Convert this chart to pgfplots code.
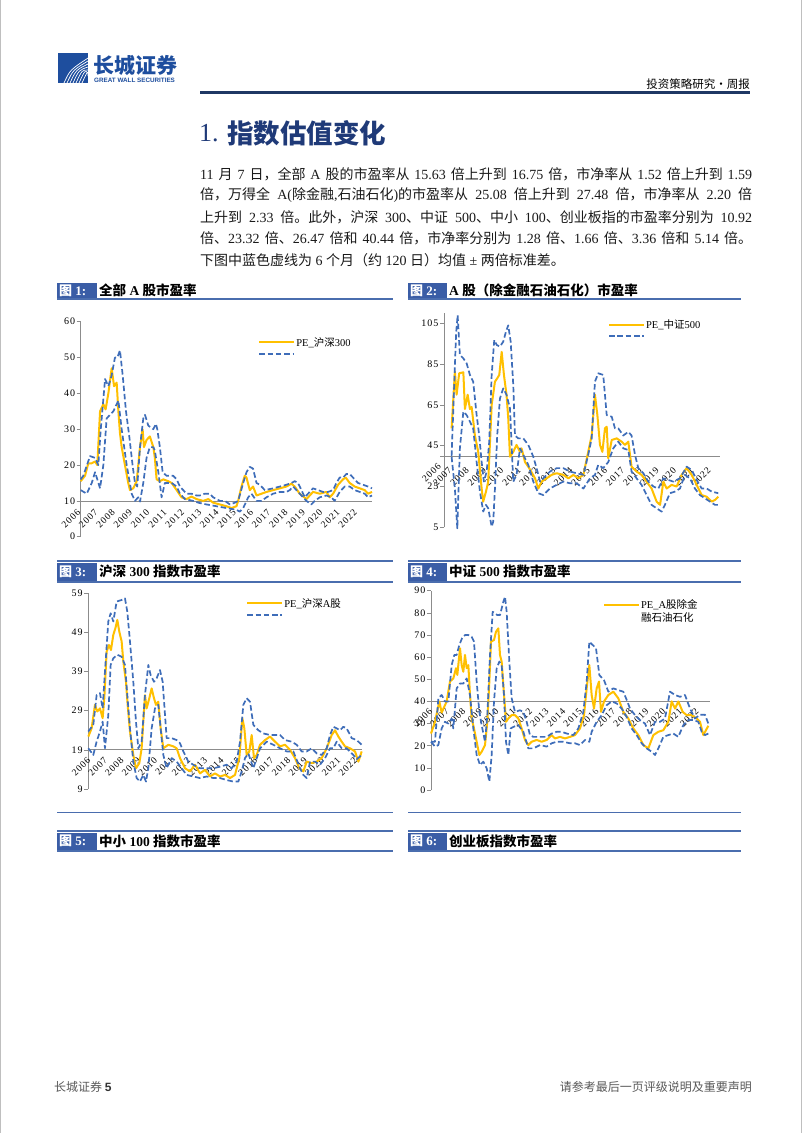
\documentclass[border=0pt]{standalone}
\usepackage{fontspec}
\usepackage{pgfplots}
\pgfplotsset{compat=1.18}
\setmainfont{Liberation Serif}
\newfontfamily\cjk{Noto Sans CJK SC}
\newfontfamily\lsans{Liberation Sans}
\newfontfamily\spaced[LetterSpace=10]{Liberation Serif}
\newcommand\z[1]{{\cjk #1}}
\newcommand\ytfont{\spaced\fontsize{10}{10}\selectfont}
\newcommand\yrfont{\spaced\fontsize{9.5}{10}\selectfont}
\newcommand\legfont{\fontsize{10.5}{11}\selectfont}
\definecolor{navy}{HTML}{1F3A78}
\definecolor{rulec}{HTML}{1F3864}
\definecolor{hdrbox}{HTML}{3A5DA6}
\definecolor{hdrline}{HTML}{4A6DAE}
\definecolor{logoblue}{HTML}{1E4E9E}
\definecolor{peyellow}{HTML}{FFC000}
\definecolor{bandblue}{HTML}{3E6DB9}
\definecolor{axgray}{HTML}{8C8C8C}
\definecolor{footgray}{HTML}{595959}
\definecolor{bodytext}{HTML}{1A1A1A}
\pgfplotsset{
 pebase/.style={
   scale only axis, clip=false,
   axis lines=left, axis line style={-, draw=axgray, line width=0.75pt},
   x axis line style={draw=none},
   xtick={2006,...,2022}, xtick style={draw=none},
   ytick style={draw=axgray, line width=0.6pt},
   tick align=outside, major tick length=4pt,
   major grid style={draw=axgray, line width=0.75pt},
   /pgf/number format/assume math mode=true,
   /pgf/number format/1000 sep={},
   yticklabel style={font=\ytfont, inner sep=1.5pt},
   xticklabel style={font=\yrfont},
   legend style={draw=none, fill=none, anchor=north west, font=\legfont, inner sep=0pt, row sep=0pt, nodes={inner sep=1pt}},
   legend cell align=left,
   legend image code/.code={\draw[##1] (0pt,0pt) -- (35pt,0pt);},
 },
 yr/.style 2 args={xticklabel style={xshift=#1, yshift=#2, rotate=45, anchor=east}},
 pe/.style={draw=peyellow, line width=2pt, line join=round},
 band/.style={draw=bandblue, line width=1.7pt, dash pattern=on 5.5pt off 2.8pt, line join=round},
}
\begin{document}
\begin{tikzpicture}
\fill[white] (0pt,0pt) rectangle (802pt,-1133pt);
\path[use as bounding box] (0pt,0pt) rectangle (802pt,-1133pt);
\draw[black!25, line width=0.8pt] (0.4pt,0pt) -- (0.4pt,-1133pt);
\draw[black!25, line width=0.8pt] (801.6pt,0pt) -- (801.6pt,-1133pt);

% ---------- logo and page header
\fill[logoblue] (58pt,-53pt) rectangle (88pt,-83pt);
\foreach \i in {0,...,6}{
  \draw[white, line width=0.7pt] ({(64+3*\i)*1pt},-83pt) .. controls ({(70+3*\i)*1pt},-70pt) .. (88pt,{(-58-3*\i)*1pt});
}
\node[anchor=west, text=logoblue, font=\cjk\bfseries\fontsize{21}{21}\selectfont, inner sep=0pt] at (93pt,-65pt) {长城证券};
\node[anchor=west, text=logoblue, font=\lsans\bfseries\fontsize{6.3}{7}\selectfont, inner sep=0pt] at (94pt,-80pt) {GREAT WALL SECURITIES};
\node[anchor=east, font=\cjk\fontsize{11.5}{12}\selectfont, inner sep=0pt] at (750pt,-84pt) {投资策略研究•周报};
\fill[rulec] (200pt,-91pt) rectangle (750pt,-94pt);

% ---------- title and text
\node[anchor=west, text=navy, font=\fontsize{26}{26}\selectfont, inner sep=0pt] at (199pt,-133pt) {1.};
\node[anchor=west, text=navy, font=\cjk\bfseries\fontsize{26.5}{27}\selectfont, inner sep=0pt] at (227pt,-133pt) {指数估值变化};
\begin{scope}[every node/.style={anchor=west, inner sep=0pt, text=bodytext, font=\fontsize{14}{16}\selectfont}]
\node at (200pt,-174pt) {\makebox[552pt][s]{11 \z{月} 7 \z{日，全部} A \z{股的市盈率从} 15.63 \z{倍上升到} 16.75 \z{倍，市净率从} 1.52 \z{倍上升到} 1.59}};
\node at (200pt,-195.5pt) {\makebox[552pt][s]{\z{倍，万得全} A(\z{除金融},\z{石油石化})\z{的市盈率从} 25.08 \z{倍上升到} 27.48 \z{倍，市净率从} 2.20 \z{倍}}};
\node at (200pt,-217pt) {\makebox[552pt][s]{\z{上升到} 2.33 \z{倍。此外，沪深} 300\z{、中证} 500\z{、中小} 100\z{、创业板指的市盈率分别为} 10.92}};
\node at (200pt,-238.5pt) {\makebox[552pt][s]{\z{倍、}23.32 \z{倍、}26.47 \z{倍和} 40.44 \z{倍，市净率分别为} 1.28 \z{倍、}1.66 \z{倍、}3.36 \z{倍和} 5.14 \z{倍。}}};
\node at (200pt,-260pt) {\z{下图中蓝色虚线为} 6 \z{个月（约} 120 \z{日）均值} ± \z{两倍标准差。}};
\end{scope}

% ---------- figure headers
\begin{scope}[every node/.style={anchor=west, inner sep=0pt}]
\fill[hdrbox] (57pt,-282.5pt) rectangle (97pt,-298.5pt);
\node[text=white, font=\bfseries\fontsize{13}{13}\selectfont] at (59pt,-290.5pt) {\z{图}~1:};
\node[font=\bfseries\fontsize{13.5}{14}\selectfont] at (99pt,-290.5pt) {\z{全部} A \z{股市盈率}};
\draw[hdrline, line width=1.6pt] (57pt,-299pt) -- (393pt,-299pt);
\fill[hdrbox] (408pt,-282.5pt) rectangle (447pt,-298.5pt);
\node[text=white, font=\bfseries\fontsize{13}{13}\selectfont] at (410pt,-290.5pt) {\z{图}~2:};
\node[font=\bfseries\fontsize{13.5}{14}\selectfont] at (449pt,-290.5pt) {A \z{股（除金融石油石化）市盈率}};
\draw[hdrline, line width=1.6pt] (408pt,-299pt) -- (741pt,-299pt);
\draw[hdrline, line width=1.6pt] (57pt,-561pt) -- (393pt,-561pt);
\fill[hdrbox] (57pt,-562.5pt) rectangle (97pt,-581pt);
\node[text=white, font=\bfseries\fontsize{13}{13}\selectfont] at (59pt,-571.5pt) {\z{图}~3:};
\node[font=\bfseries\fontsize{13.5}{14}\selectfont] at (99pt,-571.5pt) {\z{沪深} 300 \z{指数市盈率}};
\draw[hdrline, line width=1.6pt] (57pt,-582pt) -- (393pt,-582pt);
\draw[hdrline, line width=1.6pt] (408pt,-561pt) -- (741pt,-561pt);
\fill[hdrbox] (408pt,-562.5pt) rectangle (447pt,-581pt);
\node[text=white, font=\bfseries\fontsize{13}{13}\selectfont] at (410pt,-571.5pt) {\z{图}~4:};
\node[font=\bfseries\fontsize{13.5}{14}\selectfont] at (449pt,-571.5pt) {\z{中证} 500 \z{指数市盈率}};
\draw[hdrline, line width=1.6pt] (408pt,-582pt) -- (741pt,-582pt);
\draw[hdrline, line width=1.6pt] (57pt,-812.5pt) -- (393pt,-812.5pt);
\draw[hdrline, line width=1.6pt] (408pt,-812.5pt) -- (741pt,-812.5pt);
\draw[hdrline, line width=1.6pt] (57pt,-831pt) -- (393pt,-831pt);
\fill[hdrbox] (57pt,-832.5pt) rectangle (97pt,-850pt);
\node[text=white, font=\bfseries\fontsize{13}{13}\selectfont] at (59pt,-841pt) {\z{图}~5:};
\node[font=\bfseries\fontsize{13.5}{14}\selectfont] at (99pt,-841pt) {\z{中小} 100 \z{指数市盈率}};
\draw[hdrline, line width=1.6pt] (57pt,-851pt) -- (393pt,-851pt);
\draw[hdrline, line width=1.6pt] (408pt,-831pt) -- (741pt,-831pt);
\fill[hdrbox] (408pt,-832.5pt) rectangle (447pt,-850pt);
\node[text=white, font=\bfseries\fontsize{13}{13}\selectfont] at (410pt,-841pt) {\z{图}~6:};
\node[font=\bfseries\fontsize{13.5}{14}\selectfont] at (449pt,-841pt) {\z{创业板指数市盈率}};
\draw[hdrline, line width=1.6pt] (408pt,-851pt) -- (741pt,-851pt);
\end{scope}

% ---------- footer
\node[anchor=west, inner sep=0pt, text=footgray, font=\cjk\fontsize{12}{12}\selectfont] at (54pt,-1087pt) {长城证券 {\lsans\bfseries\color{black!80}5}};
\node[anchor=east, inner sep=0pt, text=footgray, font=\cjk\fontsize{12}{12}\selectfont] at (752pt,-1087pt) {请参考最后一页评级说明及重要声明};

% ---------- chart 1
\begin{axis}[pebase, at={(80.7pt,-536.7pt)}, anchor=south west, width=291.3pt, height=215pt,
  xmin=2006, xmax=2022.85, ymin=0, ymax=60, ytick={0,10,...,60},
  extra y ticks={10}, extra y tick labels={}, extra y tick style={grid=major},
  yr={0.5pt}{32pt}, legend style={at={(0.609,0.933)}}]
\addplot[pe] coordinates {(2006.00,15.5)(2006.25,17)(2006.44,20.5)(2006.64,20.5)(2006.83,21)(2006.96,20)(2007.12,35)(2007.31,37)(2007.44,35.5)(2007.60,40)(2007.79,47)(2007.93,42)(2008.08,43)(2008.18,35)(2008.27,29)(2008.37,25)(2008.56,20)(2008.75,15)(2008.85,13)(2009.04,13.5)(2009.24,15.5)(2009.43,25)(2009.58,30)(2009.66,25)(2009.81,27)(2010.00,28)(2010.20,25)(2010.29,22)(2010.39,16)(2010.58,15.5)(2010.78,16)(2011.06,15.5)(2011.26,15)(2011.55,13)(2011.83,11)(2012.12,10.5)(2012.41,11.2)(2012.70,10.5)(2013.09,10)(2013.38,10.5)(2013.66,9.5)(2014.05,9)(2014.43,8.5)(2014.72,8)(2015.01,8.5)(2015.11,10)(2015.30,14)(2015.49,17)(2015.59,16.5)(2015.78,13)(2015.97,14)(2016.17,11.5)(2016.46,12)(2016.75,12.5)(2017.13,13)(2017.52,13.5)(2017.90,14)(2018.19,14.8)(2018.38,14)(2018.67,12)(2019.06,10.5)(2019.25,11.5)(2019.44,12.5)(2019.83,12)(2020.21,12.5)(2020.40,11)(2020.60,12)(2020.89,14.5)(2021.17,16)(2021.33,16.5)(2021.56,15)(2021.85,14)(2022.14,13.5)(2022.43,13)(2022.62,12)(2022.85,12.5)};
\addlegendentry{PE\_\z{沪深}300}
\addplot[band] coordinates {(2006.00,16)(2006.15,17)(2006.54,22.5)(2006.83,22)(2007.02,20)(2007.16,30)(2007.41,44)(2007.60,42)(2007.79,45)(2007.98,50)(2008.12,50)(2008.27,52)(2008.43,45)(2008.62,35)(2008.81,28)(2009.00,20)(2009.14,15)(2009.27,14)(2009.43,25)(2009.62,33)(2009.72,34)(2009.91,31)(2010.20,30)(2010.35,31.5)(2010.43,30)(2010.58,25)(2010.74,18)(2010.97,17)(2011.35,17)(2011.55,16)(2011.74,14)(2012.12,12)(2012.41,12)(2012.70,11.5)(2012.89,11.5)(2013.18,12)(2013.47,12)(2013.66,11)(2014.05,10)(2014.34,10)(2014.63,9)(2014.92,9.5)(2015.11,10)(2015.40,15)(2015.59,18)(2015.78,19.5)(2015.97,19)(2016.17,15)(2016.36,14.5)(2016.65,13)(2017.13,13.5)(2017.52,14)(2017.90,14.5)(2018.19,15)(2018.38,15.5)(2018.57,15)(2018.77,13)(2018.96,11)(2019.15,12)(2019.44,13.5)(2019.73,13)(2020.02,12.5)(2020.31,12.5)(2020.60,13)(2020.79,15)(2020.98,16.5)(2021.17,16.5)(2021.37,17.5)(2021.56,17.5)(2021.85,16)(2022.04,15)(2022.33,14.5)(2022.62,14)(2022.85,13.5)};
\addlegendentry{\phantom{PE}}
\addplot[band, forget plot] coordinates {(2006.00,13)(2006.35,12)(2006.64,15)(2006.83,18)(2006.96,16)(2007.12,13.5)(2007.31,20)(2007.50,33)(2007.69,34)(2007.89,35)(2008.08,37)(2008.18,38)(2008.37,30)(2008.66,20)(2008.95,12)(2009.14,10)(2009.33,11)(2009.43,9.8)(2009.62,15)(2009.81,22)(2010.00,25)(2010.20,25)(2010.29,24)(2010.49,18)(2010.68,11)(2010.87,15)(2011.26,15)(2011.55,14)(2011.74,12)(2012.03,10.5)(2012.51,10)(2012.80,9.5)(2013.28,9)(2013.86,8.5)(2014.43,8)(2015.01,7.5)(2015.20,7)(2015.40,8)(2015.69,11)(2015.88,12)(2016.17,10)(2016.46,10)(2016.75,11)(2017.13,12)(2017.52,12.5)(2017.90,12.5)(2018.09,13)(2018.29,14)(2018.67,12)(2019.06,10)(2019.34,9)(2019.54,10)(2019.83,11)(2020.21,11.5)(2020.50,11)(2020.69,10)(2020.98,12.5)(2021.27,14)(2021.56,14)(2021.85,13)(2022.14,12.5)(2022.43,12)(2022.62,11)(2022.85,11.5)};
\end{axis}

% ---------- chart 2
\begin{axis}[pebase, at={(444pt,-527.3pt)}, anchor=south west, width=276pt, height=214.2pt,
  xmin=2006.85, xmax=2022.83, ymin=5, ymax=110, ytick={5,25,...,105},
  extra y ticks={40}, extra y tick labels={}, extra y tick style={grid=major},
  yr={6pt}{64.6pt}, legend style={at={(0.594,0.975)}}]
\addplot[pe] coordinates {(2007.29,53.5)(2007.48,81.3)(2007.58,70)(2007.73,80.5)(2007.97,81)(2008.06,63)(2008.22,70)(2008.35,63)(2008.45,64)(2008.64,50)(2008.83,42)(2009.03,24)(2009.12,17.6)(2009.28,22.5)(2009.41,27.4)(2009.61,65)(2009.80,76.4)(2009.93,78)(2010.05,79.7)(2010.19,91)(2010.32,79.7)(2010.47,70)(2010.57,58.4)(2010.67,39.6)(2010.86,42)(2011.05,45.4)(2011.25,42)(2011.34,43.7)(2011.54,37)(2011.73,34.7)(2011.92,32)(2012.12,29)(2012.31,24)(2012.50,27.4)(2012.79,29)(2013.08,30.7)(2013.37,31.5)(2013.76,30.7)(2014.05,29)(2014.34,30.7)(2014.63,29)(2014.92,30.7)(2015.20,42)(2015.40,50)(2015.59,70)(2015.73,60)(2015.88,45.4)(2016.02,42)(2016.17,53.5)(2016.27,54.3)(2016.36,38.8)(2016.56,47.8)(2016.85,48.6)(2017.13,47)(2017.33,45.4)(2017.52,47)(2017.71,34.7)(2018.00,32.3)(2018.29,30.7)(2018.58,27.4)(2018.87,24)(2019.16,17.6)(2019.36,16)(2019.55,27.4)(2019.74,24)(2020.03,25.8)(2020.32,25)(2020.61,30.7)(2020.90,34)(2021.19,30.7)(2021.48,25.8)(2021.77,20.8)(2022.06,20)(2022.35,17.6)(2022.54,18.4)(2022.73,20)};
\addlegendentry{PE\_\z{中证}500}
\addplot[band] coordinates {(2007.29,40)(2007.55,100)(2007.64,109)(2007.77,89.5)(2007.97,87.8)(2008.16,85.4)(2008.35,79.7)(2008.54,76.4)(2008.74,60)(2008.89,50)(2009.03,37)(2009.16,27.4)(2009.32,32.3)(2009.47,47)(2009.61,79.7)(2009.76,96.8)(2009.90,94.4)(2010.09,93.6)(2010.28,96)(2010.44,101)(2010.57,104)(2010.71,96)(2010.86,74.8)(2010.96,50)(2011.15,48.6)(2011.44,48.6)(2011.73,45.4)(2012.02,39.6)(2012.21,34)(2012.41,27.4)(2012.69,29.8)(2012.98,32.3)(2013.37,34)(2013.76,34)(2014.14,32.3)(2014.53,31.5)(2014.92,30.7)(2015.20,40.5)(2015.40,48.6)(2015.59,76.4)(2015.78,80.5)(2016.07,79.7)(2016.27,60)(2016.56,59.2)(2016.75,53.5)(2016.94,53.5)(2017.23,50)(2017.52,51.8)(2017.71,50)(2017.91,40.5)(2018.10,34)(2018.39,31.5)(2018.68,27.4)(2018.97,25)(2019.26,24)(2019.55,29)(2019.84,28.2)(2020.13,27.4)(2020.51,29)(2020.90,34.7)(2021.19,33.1)(2021.48,28.2)(2021.77,24)(2022.06,24)(2022.35,22.5)(2022.73,21.7)};
\addlegendentry{\phantom{PE}}
\addplot[band, forget plot] coordinates {(2007.29,39.6)(2007.48,24)(2007.62,4.5)(2007.77,43.7)(2007.97,61.7)(2008.16,60)(2008.35,56.8)(2008.54,53.5)(2008.74,37)(2008.93,22.5)(2009.12,12.7)(2009.28,16)(2009.41,14.3)(2009.61,5.3)(2009.70,7.8)(2009.80,24)(2009.93,50)(2010.09,68.2)(2010.28,73.1)(2010.47,70)(2010.67,63.3)(2010.86,27.4)(2011.05,30.7)(2011.25,43.7)(2011.44,40.5)(2011.73,35.6)(2012.02,27.4)(2012.31,21.7)(2012.60,20.8)(2012.98,24)(2013.37,25.8)(2013.76,27.4)(2014.14,26.6)(2014.53,26.6)(2014.92,24)(2015.30,29)(2015.59,30.7)(2015.78,35.6)(2016.07,34)(2016.36,37)(2016.65,43.7)(2016.94,47)(2017.23,43.7)(2017.52,42.9)(2017.71,32.3)(2018.00,29)(2018.29,25.8)(2018.58,20.8)(2018.87,16)(2019.16,14.3)(2019.45,12.7)(2019.64,16)(2019.93,21.7)(2020.22,22.5)(2020.51,24)(2020.80,30.7)(2021.09,29)(2021.38,24)(2021.67,20.8)(2021.96,19.2)(2022.25,17.6)(2022.54,16)(2022.73,16)};
\node[font=\yrfont, xshift=6pt, yshift=64.6pt, rotate=45, anchor=east] at (axis cs:2006.37,5) {2006};
\end{axis}

% ---------- chart 3
\begin{axis}[pebase, at={(88.3pt,-789pt)}, anchor=south west, width=273.4pt, height=195.7pt,
  xmin=2006, xmax=2022.4, ymin=9, ymax=59, ytick={9,19,...,59},
  extra y ticks={19}, extra y tick labels={}, extra y tick style={grid=major},
  yr={3pt}{37pt}, legend style={at={(0.577,0.981)}}]
\addplot[pe] coordinates {(2006.0,22.4)(2006.2,24.5)(2006.4,30.5)(2006.54,28.8)(2006.7,29.6)(2006.86,27.1)(2006.96,32.2)(2007.1,44.1)(2007.24,45.8)(2007.36,44.5)(2007.5,48.4)(2007.62,50)(2007.74,52.2)(2007.86,49.2)(2008.0,46.7)(2008.1,41.6)(2008.26,36.4)(2008.36,30.5)(2008.5,23.7)(2008.7,17.7)(2008.86,14.3)(2009.06,15.6)(2009.2,19.4)(2009.4,33)(2009.5,29.6)(2009.66,32.2)(2009.8,34.7)(2009.94,32.2)(2010.06,30.5)(2010.2,31.3)(2010.34,24.5)(2010.5,19.4)(2010.8,20.3)(2011.1,19.9)(2011.3,19.4)(2011.5,16.9)(2011.8,14.3)(2012.1,13.5)(2012.4,15.2)(2012.7,13)(2013.0,13.9)(2013.3,12.2)(2013.6,13)(2013.9,12.2)(2014.2,12.6)(2014.5,11.8)(2014.8,12.6)(2015.06,16.9)(2015.24,27.1)(2015.36,24.5)(2015.5,17.7)(2015.66,18.6)(2015.8,22.8)(2015.94,16.9)(2016.1,17.7)(2016.3,20.3)(2016.6,21.5)(2016.9,22.4)(2017.2,21.1)(2017.5,19.9)(2017.8,20.3)(2018.1,19)(2018.4,16.9)(2018.66,14.3)(2018.9,13.5)(2019.1,16)(2019.4,15.6)(2019.7,16)(2020.0,16.9)(2020.3,19.4)(2020.6,22.8)(2020.8,24)(2021.0,22.4)(2021.2,21.1)(2021.4,19.9)(2021.7,19.4)(2022.0,18.6)(2022.2,16)(2022.4,18.6)};
\addlegendentry{PE\_\z{沪深}A\z{股}}
\addplot[band] coordinates {(2006.0,23.7)(2006.3,25.4)(2006.5,33)(2006.7,33.5)(2006.86,29.6)(2007.0,39)(2007.2,51.8)(2007.34,53.9)(2007.5,51.8)(2007.7,56.9)(2008.0,57.3)(2008.2,57.7)(2008.34,54.3)(2008.5,46.7)(2008.7,36.4)(2008.86,26.2)(2009.0,19.4)(2009.2,21.1)(2009.4,33)(2009.6,40.7)(2009.74,38.1)(2009.94,36.4)(2010.1,37.3)(2010.3,39.4)(2010.46,36.4)(2010.7,22)(2011.0,22)(2011.3,21.5)(2011.5,20.7)(2011.7,18.6)(2012.0,16)(2012.3,15.2)(2012.7,14.3)(2013.1,14.3)(2013.5,14.3)(2013.9,14.7)(2014.3,15.2)(2014.6,14.3)(2014.9,16)(2015.1,21.1)(2015.3,30.5)(2015.5,32.2)(2015.7,31.3)(2015.9,25.4)(2016.2,24)(2016.5,23.2)(2016.9,22.8)(2017.3,22.8)(2017.5,22.8)(2017.8,21.5)(2018.2,21.1)(2018.5,20.3)(2018.8,18.6)(2019.1,18.6)(2019.4,19.4)(2019.7,18.1)(2020.0,17.7)(2020.3,19.4)(2020.5,22.8)(2020.7,24.9)(2020.9,24.5)(2021.1,24)(2021.3,24.9)(2021.5,24.5)(2021.8,22)(2022.1,21.5)(2022.4,20.3)};
\addlegendentry{\phantom{PE}}
\addplot[band, forget plot] coordinates {(2006.0,19.4)(2006.3,17.7)(2006.5,21.1)(2006.7,23.7)(2006.86,26.2)(2007.0,19.4)(2007.2,27.9)(2007.34,40.7)(2007.5,42.4)(2007.74,43.3)(2008.0,42.8)(2008.2,40.7)(2008.34,33)(2008.5,24.5)(2008.7,16)(2008.9,11.8)(2009.1,10.9)(2009.3,12.6)(2009.46,10.9)(2009.6,14.3)(2009.8,24.5)(2010.0,29.6)(2010.2,30.5)(2010.34,24.5)(2010.5,17.7)(2010.7,14.3)(2011.0,16.9)(2011.3,16)(2011.6,14.3)(2011.9,12.6)(2012.3,12.2)(2012.7,11.8)(2013.1,12.2)(2013.5,11.8)(2013.9,11.8)(2014.3,11.3)(2014.7,10.9)(2015.0,10.9)(2015.2,13.5)(2015.4,16.9)(2015.6,18.1)(2015.9,14.3)(2016.3,19.4)(2016.7,21.1)(2017.1,20.3)(2017.5,19.4)(2017.9,18.6)(2018.3,18.6)(2018.7,14.3)(2018.9,12.6)(2019.1,11.8)(2019.3,16)(2019.6,16)(2019.9,15.2)(2020.2,16.9)(2020.5,19.4)(2020.7,19.4)(2020.9,21.1)(2021.2,19.4)(2021.5,19.4)(2021.9,17.7)(2022.1,16.6)(2022.4,17.7)};
\end{axis}

% ---------- chart 4
\begin{axis}[pebase, at={(431pt,-790pt)}, anchor=south west, width=279pt, height=199.3pt,
  xmin=2006, xmax=2022.74, ymin=0, ymax=90, ytick={0,10,...,90},
  extra y ticks={40}, extra y tick labels={}, extra y tick style={grid=major},
  yr={2pt}{86.7pt}, legend style={at={(0.616,0.961)}}]
\addplot[pe] coordinates {(2006.00,25.5)(2006.24,30.8)(2006.50,40)(2006.64,35)(2006.94,40)(2007.14,49)(2007.34,50.4)(2007.50,55)(2007.58,52)(2007.74,64)(2007.84,56.4)(2007.94,53.4)(2008.04,61)(2008.14,55)(2008.24,56.4)(2008.34,42.9)(2008.44,32.3)(2008.58,27.8)(2008.74,21.8)(2008.90,15.8)(2009.04,17.3)(2009.24,20.3)(2009.38,30.8)(2009.50,49)(2009.60,67)(2009.78,67.7)(2009.90,71.5)(2010.04,73)(2010.14,61)(2010.24,58)(2010.34,47.4)(2010.50,30.8)(2010.64,32.3)(2010.84,33.8)(2011.04,33.8)(2011.24,32.3)(2011.44,27.8)(2011.64,22.6)(2011.84,20.3)(2012.04,21.8)(2012.34,22.6)(2012.64,21.8)(2012.94,22.6)(2013.24,24.8)(2013.44,23.3)(2013.74,24)(2014.04,23.3)(2014.34,24)(2014.64,24.8)(2014.94,27.8)(2015.18,33.8)(2015.34,45.9)(2015.50,56.4)(2015.64,42.9)(2015.78,36.8)(2015.94,45.9)(2016.08,49)(2016.20,35.3)(2016.38,40)(2016.64,42.9)(2016.94,44.4)(2017.24,41.4)(2017.54,35.3)(2017.84,32.3)(2018.14,27.8)(2018.44,24.8)(2018.74,20.3)(2019.04,18.8)(2019.34,24.8)(2019.64,26.3)(2019.94,27)(2020.24,30.8)(2020.44,40)(2020.64,36.8)(2020.84,40)(2021.10,35.3)(2021.34,33.8)(2021.64,33.8)(2021.94,32.3)(2022.14,30.8)(2022.34,24.8)(2022.64,29)};
\addlegendentry{\rlap{\smash{\raisebox{-13pt}{\z{融石油石化}}}}PE\_A\z{股除金}}
\addplot[band, forget plot] coordinates {(2006.00,21.8)(2006.24,21.8)(2006.44,41.4)(2006.64,42.9)(2006.84,40)(2007.04,40)(2007.24,56.4)(2007.40,61)(2007.54,61)(2007.70,65.5)(2007.86,68.5)(2008.04,70)(2008.24,70)(2008.44,69.2)(2008.58,67)(2008.74,48.9)(2008.90,35.3)(2009.04,29.3)(2009.24,21.8)(2009.38,33.8)(2009.54,61)(2009.70,80.5)(2009.84,79.8)(2009.98,79)(2010.14,79)(2010.34,85)(2010.44,87.3)(2010.54,80.5)(2010.70,58)(2010.84,41.4)(2011.04,35.3)(2011.34,36)(2011.54,35.3)(2011.74,30.8)(2011.94,24.8)(2012.14,24)(2012.54,24)(2012.94,24)(2013.24,25.5)(2013.54,26.3)(2013.84,26.3)(2014.14,25.5)(2014.54,24.8)(2014.84,27.8)(2015.14,35.3)(2015.34,48.9)(2015.50,67)(2015.70,65.5)(2015.90,64)(2016.10,51.9)(2016.38,49.6)(2016.64,44.4)(2016.94,45.9)(2017.24,45.1)(2017.54,44.4)(2017.78,40)(2017.94,36.8)(2018.24,33.8)(2018.54,31.6)(2018.84,30)(2019.14,24.8)(2019.44,30.8)(2019.74,30.8)(2020.04,32.3)(2020.34,44.4)(2020.64,42.9)(2020.94,42.1)(2021.24,42.9)(2021.54,36.8)(2021.84,32.3)(2022.14,34)(2022.44,34)(2022.64,30)};
\addplot[band, forget plot] coordinates {(2006.00,21.8)(2006.24,19.6)(2006.44,20.3)(2006.64,27.8)(2006.84,30.8)(2007.04,30)(2007.24,32.3)(2007.34,27.8)(2007.54,45.9)(2007.74,48.1)(2007.94,48.1)(2008.14,50.4)(2008.34,42.9)(2008.54,27.8)(2008.74,15.8)(2008.94,11.3)(2009.14,12.8)(2009.34,9.8)(2009.50,3.8)(2009.64,15.8)(2009.78,40)(2009.94,54.9)(2010.10,58)(2010.24,56.4)(2010.38,42.9)(2010.50,21.8)(2010.64,15.8)(2010.78,27.8)(2010.94,28.5)(2011.24,29.3)(2011.54,26.3)(2011.84,18.8)(2012.14,18.8)(2012.54,20.3)(2012.94,19.6)(2013.24,21.1)(2013.54,21.8)(2013.94,21.8)(2014.34,21.1)(2014.64,21.1)(2014.94,20.3)(2015.24,22.6)(2015.50,21.8)(2015.64,26.3)(2015.94,30.8)(2016.24,33.8)(2016.54,38.3)(2016.84,40)(2017.14,39.1)(2017.44,36.8)(2017.74,33)(2018.04,27.8)(2018.34,24.8)(2018.64,21.1)(2018.94,18.8)(2019.24,17.3)(2019.44,15.8)(2019.64,18.8)(2019.94,24)(2020.24,24.8)(2020.54,25.5)(2020.84,24)(2021.14,29.3)(2021.44,31.6)(2021.74,31.6)(2022.04,30.8)(2022.24,26.3)(2022.44,24.8)(2022.64,25.5)};
\end{axis}
\end{tikzpicture}
\end{document}
